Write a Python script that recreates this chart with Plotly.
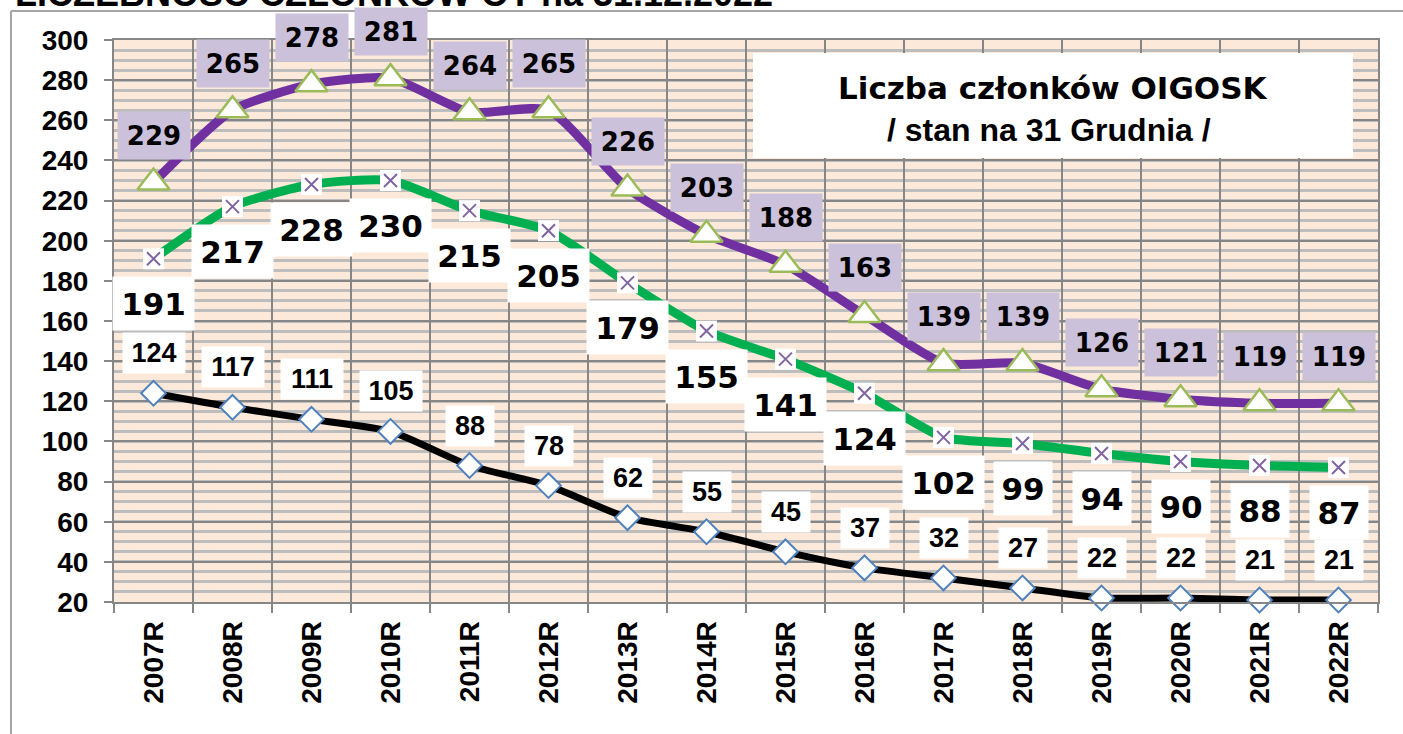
import plotly.graph_objects as go

years = ["2007R", "2008R", "2009R", "2010R", "2011R", "2012R", "2013R", "2014R",
         "2015R", "2016R", "2017R", "2018R", "2019R", "2020R", "2021R", "2022R"]
top_series = [229, 265, 278, 281, 264, 265, 226, 203, 188, 163, 139, 139, 126, 121, 119, 119]
mid_series = [191, 217, 228, 230, 215, 205, 179, 155, 141, 124, 102, 99, 94, 90, 88, 87]
low_series = [124, 117, 111, 105, 88, 78, 62, 55, 45, 37, 32, 27, 22, 22, 21, 21]

y_ticks = list(range(20, 301, 20))

W, H = 1403, 734
ML, MR, MT, MB = 114, 25, 40, 132
PW = W - ML - MR
PH = H - MT - MB


def px_x(px):
    return (px - ML) / PW


def px_y(py):
    return (H - MB - py) / PH


fig = go.Figure()

# purple series
fig.add_trace(go.Scatter(
    x=years, y=top_series, mode="lines+markers",
    line=dict(color="#7030a0", width=9, shape="spline", smoothing=0.6),
    marker=dict(symbol="triangle-up", size=28, color="white",
                line=dict(color="#9bbb59", width=2.5)),
    cliponaxis=False, hoverinfo="x+y"))

# green series
fig.add_trace(go.Scatter(
    x=years, y=mid_series, mode="lines+markers",
    line=dict(color="#00b050", width=9, shape="spline", smoothing=0.6),
    marker=dict(symbol="square", size=21, color="white", line=dict(width=0)),
    cliponaxis=False, hoverinfo="x+y"))
fig.add_trace(go.Scatter(
    x=years, y=mid_series, mode="markers",
    marker=dict(symbol="x-thin", size=13, color="#8064a2",
                line=dict(color="#8064a2", width=2)),
    cliponaxis=False, hoverinfo="skip"))

# black series
fig.add_trace(go.Scatter(
    x=years, y=low_series, mode="lines+markers",
    line=dict(color="black", width=7, shape="spline", smoothing=0.6),
    marker=dict(symbol="diamond", size=19, color="white",
                line=dict(color="#4f81bd", width=2)),
    cliponaxis=False, hoverinfo="x+y"))

annotations = []
for yr, v in zip(years, top_series):
    annotations.append(dict(
        x=yr, y=v, xref="x", yref="y", text=str(v), showarrow=False,
        yshift=47, width=72, height=47, borderpad=0, bgcolor="#ccc1da",
        font=dict(family="DejaVu Sans", size=26, color="black", weight="bold")))
for yr, v in zip(years, mid_series):
    annotations.append(dict(
        x=yr, y=v, xref="x", yref="y", text=str(v), showarrow=False,
        yshift=-45, width=81 if len(str(v)) == 3 else 58, height=53, borderpad=0,
        bgcolor="white",
        font=dict(family="DejaVu Sans", size=31, color="black", weight="bold")))
for yr, v in zip(years, low_series):
    annotations.append(dict(
        x=yr, y=v, xref="x", yref="y", text=str(v), showarrow=False,
        yshift=40, width=62 if len(str(v)) == 3 else 48, height=40, borderpad=0,
        bgcolor="white",
        font=dict(family="Liberation Sans", size=27, color="black", weight="bold")))

# info box text
annotations.append(dict(
    x=px_x(1053), y=px_y(88), xref="paper", yref="paper", text="Liczba członków OIGOSK",
    showarrow=False, xanchor="center", yanchor="middle",
    font=dict(family="DejaVu Sans", size=31, color="black", weight="bold")))
annotations.append(dict(
    x=px_x(1049), y=px_y(130), xref="paper", yref="paper", text="/ stan na 31 Grudnia /",
    showarrow=False, xanchor="center", yanchor="middle",
    font=dict(family="Liberation Sans", size=32, color="black", weight="bold")))

# page title, cut by the top edge as in the reference
annotations.append(dict(
    x=px_x(14), y=px_y(15), xref="paper", yref="paper",
    text="LICZEBNOŚĆ CZŁONKÓW OT na 31.12.2022",
    showarrow=False, xanchor="left", yanchor="bottom", borderpad=0,
    font=dict(family="Liberation Sans", size=36, color="black", weight="bold")))

shapes = [
    # outer frame (top and left edges)
    dict(type="line", xref="paper", yref="paper", x0=px_x(11), x1=px_x(W + 5),
         y0=px_y(11), y1=px_y(11), line=dict(color="#a6a6a6", width=2), layer="below"),
    dict(type="line", xref="paper", yref="paper", x0=px_x(11), x1=px_x(11),
         y0=px_y(11), y1=px_y(H + 5), line=dict(color="#a6a6a6", width=2), layer="below"),
    # info box
    dict(type="rect", xref="paper", yref="paper", x0=px_x(753), x1=px_x(1353),
         y0=px_y(158), y1=px_y(53), fillcolor="white", line=dict(width=0), layer="above"),
]

fig.update_layout(
    width=W, height=H,
    margin=dict(l=ML, r=MR, t=MT, b=MB),
    paper_bgcolor="white", plot_bgcolor="#fde9d9",
    showlegend=False,
    annotations=annotations, shapes=shapes,
    xaxis=dict(
        type="category", categoryorder="array", categoryarray=years,
        range=[-0.5, len(years) - 0.5], tickson="boundaries",
        showgrid=True, gridcolor="#868686", gridwidth=2,
        ticks="outside", ticklen=9, tickwidth=2, tickcolor="#868686",
        showline=True, linecolor="#868686", linewidth=2, mirror=True,
        tickangle=-90, ticklabelstandoff=6,
        tickfont=dict(family="Liberation Sans", size=28, color="black", weight="bold"),
        fixedrange=True),
    yaxis=dict(
        range=[20, 300], tickvals=y_ticks, ticktext=[str(t) for t in y_ticks],
        showgrid=True, gridcolor="#868686", gridwidth=2,
        minor=dict(dtick=5, tick0=20, showgrid=True, gridcolor="#bdbdbd", gridwidth=2.5),
        ticks="outside", ticklen=8, tickwidth=2, tickcolor="#868686",
        showline=True, linecolor="#868686", linewidth=2, mirror=True,
        zeroline=False, ticklabelstandoff=10,
        tickfont=dict(family="Liberation Sans", size=28, color="black", weight="bold"),
        fixedrange=True),
)

fig.write_html(
    "out.html",
    config={"displayModeBar": False},
    post_script="document.body.style.margin='0';document.body.style.overflow='hidden';")
